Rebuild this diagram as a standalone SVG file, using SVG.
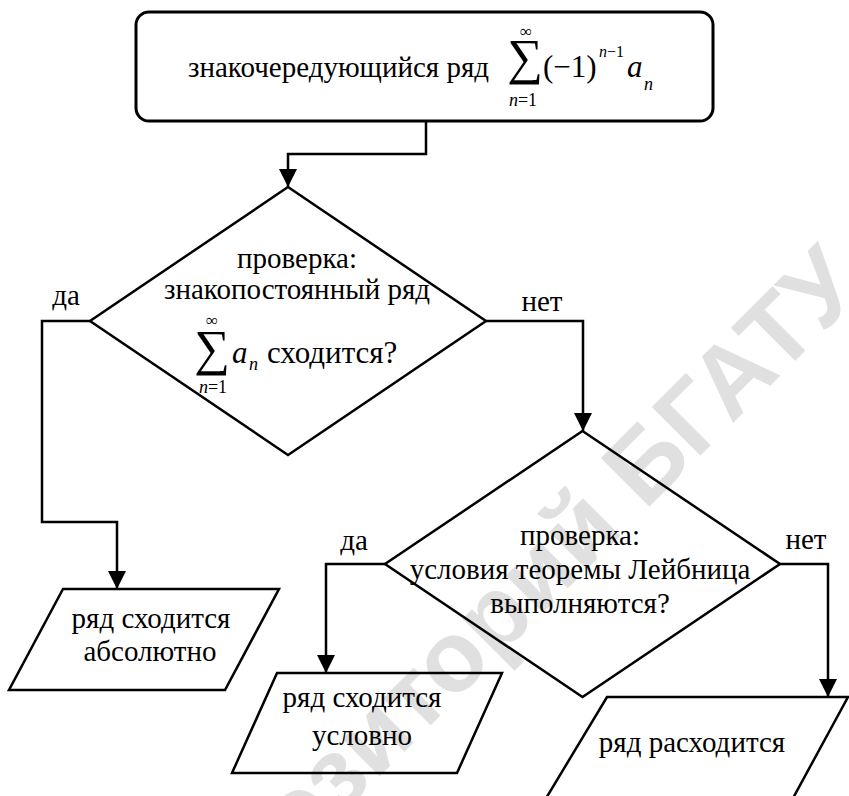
<svg xmlns="http://www.w3.org/2000/svg" width="849" height="796" viewBox="0 0 849 796">
<defs>
<style>
.t{font-size:29px;fill:#000}
.m{fill:#000}
.i{font-style:italic}
.shape{fill:none;stroke:#000;stroke-width:2.5;stroke-linejoin:miter}
.conn{fill:none;stroke:#000;stroke-width:2.5}
.wm{font-weight:bold;font-size:100px;fill:#e0e0e0}
</style>
<marker id="arr" markerUnits="userSpaceOnUse" markerWidth="18" markerHeight="18" viewBox="0 0 16 16" refX="16" refY="8" orient="auto">
<path d="M0,0 L16,8 L0,16 Z" fill="#000"/>
</marker>
</defs>
<rect width="849" height="796" fill="#fff"/>
<text class="wm" transform="translate(866,290) rotate(-45)" text-anchor="end" font-family="Liberation Sans, Arial, sans-serif">Репозиторий БГАТУ</text>

<g id="start" font-family="Liberation Serif, Times New Roman, serif">
<rect class="shape" x="136" y="12" width="577" height="109" rx="13" ry="13" style="stroke-width:3"/>
<text class="t" x="188" y="77">знакочередующийся ряд</text>
<text class="m" x="525" y="74" font-size="50" text-anchor="middle">∑</text>
<text class="m" x="526" y="37" font-size="17" text-anchor="middle">∞</text>
<text class="m" x="523" y="106" font-size="18" text-anchor="middle"><tspan class="i">n</tspan>=1</text>
<text class="m" x="543" y="77" font-size="31">(−1)</text>
<text class="m" x="599" y="57" font-size="16"><tspan class="i">n</tspan>−1</text>
<text class="m i" x="627" y="77" font-size="31">a</text>
<text class="m i" x="644" y="90" font-size="18">n</text>
</g>

<g id="check1" font-family="Liberation Serif, Times New Roman, serif">
<polygon class="shape" points="288,187 486,321 288,455 90,321"/>
<text class="t" x="297" y="268" text-anchor="middle">проверка:</text>
<text class="t" x="297" y="299" text-anchor="middle">знакопостоянный ряд</text>
<text class="m" x="212" y="365" font-size="50" text-anchor="middle">∑</text>
<text class="m" x="212" y="326" font-size="17" text-anchor="middle">∞</text>
<text class="m" x="213" y="393" font-size="18" text-anchor="middle"><tspan class="i">n</tspan>=1</text>
<text class="m i" x="232" y="363" font-size="31">a</text>
<text class="m i" x="249" y="370" font-size="18">n</text>
<text class="m" x="267" y="363" font-size="31">сходится?</text>
</g>

<g id="check2" font-family="Liberation Serif, Times New Roman, serif">
<polygon class="shape" points="582.5,431 780,564 582.5,697 385,564"/>
<text class="t" x="580" y="545" text-anchor="middle">проверка:</text>
<text class="t" x="580" y="579" text-anchor="middle">условия теоремы Лейбница</text>
<text class="t" x="580" y="613" text-anchor="middle">выполняются?</text>
</g>

<g id="abs" font-family="Liberation Serif, Times New Roman, serif">
<polygon class="shape" points="63,589 279,589 225,690 9,690"/>
<text class="t" x="151" y="628" text-anchor="middle">ряд сходится</text>
<text class="t" x="150" y="661" text-anchor="middle">абсолютно</text>
</g>

<g id="cond" font-family="Liberation Serif, Times New Roman, serif">
<polygon class="shape" points="277,673 502,673 457,773 232,773"/>
<text class="t" x="362" y="707" text-anchor="middle">ряд сходится</text>
<text class="t" x="362" y="745" text-anchor="middle">условно</text>
</g>

<g id="div" font-family="Liberation Serif, Times New Roman, serif">
<polygon class="shape" points="607,697 848,697 792,800 545,800"/>
<text class="t" x="692" y="752" text-anchor="middle">ряд расходится</text>
</g>

<g id="connectors" font-family="Liberation Serif, Times New Roman, serif">
<path class="conn" d="M426,121 V154 H288 V187" marker-end="url(#arr)"/>
<path class="conn" d="M90,321 H42 V522 H117 V589" marker-end="url(#arr)"/>
<path class="conn" d="M486,321 H583 V431" marker-end="url(#arr)"/>
<path class="conn" d="M385,564 H326 V673" marker-end="url(#arr)"/>
<path class="conn" d="M780,564 H828 V697" marker-end="url(#arr)"/>
<text class="t" x="66" y="305" text-anchor="middle">да</text>
<text class="t" x="542" y="311" text-anchor="middle">нет</text>
<text class="t" x="354" y="550" text-anchor="middle">да</text>
<text class="t" x="806" y="549" text-anchor="middle">нет</text>
</g>
</svg>
